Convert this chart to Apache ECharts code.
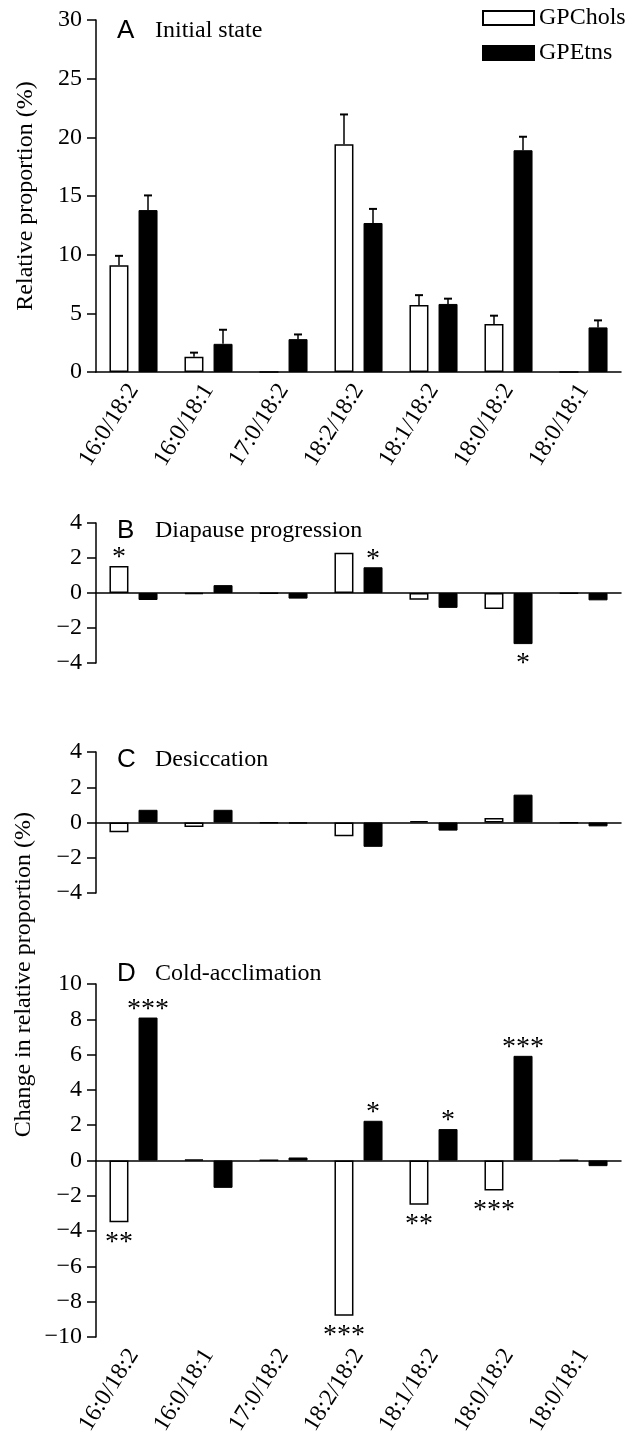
<!DOCTYPE html>
<html>
<head>
<meta charset="utf-8">
<script src="https://cdn.jsdelivr.net/npm/echarts@6/dist/echarts.min.js"></script>
<style>
  html, body { margin: 0; padding: 0; background: #fff; }
  #chart { width: 639px; height: 1437px; }
</style>
</head>
<body>
<div id="chart"></div>
<script>
// molecular species (x categories)
const categories = ['16:0/18:2', '16:0/18:1', '17:0/18:2', '18:2/18:2', '18:1/18:2', '18:0/18:2', '18:0/18:1'];

// A - initial state, relative proportion (%) and SE
const initChols = [9.1, 1.3, 0, 19.4, 5.7, 4.1, 0];
const initEtns = [13.8, 2.4, 2.8, 12.7, 5.8, 18.9, 3.8];
const initCholsErr = [0.8, 0.35, 0, 2.55, 0.85, 0.7, 0];
const initEtnsErr = [1.25, 1.2, 0.4, 1.2, 0.45, 1.15, 0.6];

// B - diapause progression, change (%)
const diapChols = [1.55, -0.05, -0.03, 2.3, -0.38, -0.92, -0.03];
const diapEtns = [-0.4, 0.45, -0.32, 1.47, -0.85, -2.92, -0.42];
const diapCholsSig = ['*', '', '', '', '', '', ''];
const diapEtnsSig = ['', '', '', '*', '', '*', ''];

// C - desiccation, change (%)
const desChols = [-0.55, -0.26, -0.04, -0.78, 0.08, 0.25, -0.03];
const desEtns = [0.72, 0.72, -0.05, -1.38, -0.46, 1.58, -0.22];
const desCholsSig = ['', '', '', '', '', '', ''];
const desEtnsSig = ['', '', '', '', '', '', ''];

// D - cold-acclimation, change (%)
const coldChols = [-3.5, 0.05, 0.02, -8.8, -2.5, -1.7, 0.02];
const coldEtns = [8.1, -1.55, 0.17, 2.25, 1.78, 5.93, -0.32];
const coldCholsSig = ['**', '', '', '***', '**', '***', ''];
const coldEtnsSig = ['***', '', '', '*', '*', '***', ''];

const serif = 'Liberation Serif';
const sans = 'Liberation Sans';

const panels = [
  { key: 'A', name: 'Initial state', top: 20, height: 352, min: 0, max: 30, step: 5, titleTop: 18, labels: true },
  { key: 'B', name: 'Diapause progression', top: 523, height: 140, min: -4, max: 4, step: 2, titleTop: 518, labels: false },
  { key: 'C', name: 'Desiccation', top: 752, height: 141, min: -4, max: 4, step: 2, titleTop: 747, labels: false },
  { key: 'D', name: 'Cold-acclimation', top: 984, height: 353, min: -10, max: 10, step: 2, titleTop: 961, labels: true }
];

function minus(v) {
  return v < 0 ? '\u2212' + (-v) : String(v);
}

function withSig(values, sig) {
  return values.map((v, i) => {
    const s = sig ? sig[i] : '';
    return {
      value: v,
      label: {
        show: !!s,
        formatter: s,
        position: v >= 0 ? 'top' : 'bottom',
        distance: v >= 0 ? -6 : 6
      }
    };
  });
}

const sigLabel = { fontFamily: serif, fontSize: 28, color: '#000' };

function barPair(idx, chols, etns, cholsSig, etnsSig) {
  return [
    {
      name: 'GPChols', type: 'bar', xAxisIndex: idx, yAxisIndex: idx,
      barWidth: 19, barGap: '53%',
      itemStyle: { color: '#fff', borderColor: '#000', borderWidth: 1.5 },
      label: sigLabel,
      data: withSig(chols, cholsSig)
    },
    {
      name: 'GPEtns', type: 'bar', xAxisIndex: idx, yAxisIndex: idx,
      barWidth: 19, barGap: '53%',
      itemStyle: { color: '#000', borderColor: '#000', borderWidth: 1 },
      label: sigLabel,
      data: withSig(etns, etnsSig)
    }
  ];
}

// error bars for panel A (upper half only, with cap)
const errData = [];
categories.forEach((c, i) => {
  errData.push([i, initChols[i], initCholsErr[i], -1]);
  errData.push([i, initEtns[i], initEtnsErr[i], 1]);
});

const errorSeries = {
  type: 'custom', name: 'SE', xAxisIndex: 0, yAxisIndex: 0, z: 5,
  encode: { x: 0, y: 1 },
  data: errData,
  renderItem: function (params, api) {
    const i = api.value(0), v = api.value(1), e = api.value(2), side = api.value(3);
    if (!e) return null;
    const base = api.coord([i, v]);
    const top = api.coord([i, v + e]);
    const cx = base[0] + side * 14.5;
    return {
      type: 'group',
      children: [
        { type: 'line', shape: { x1: cx, y1: base[1], x2: cx, y2: top[1] }, style: { stroke: '#000', lineWidth: 1.5 } },
        { type: 'line', shape: { x1: cx - 4, y1: top[1], x2: cx + 4, y2: top[1] }, style: { stroke: '#000', lineWidth: 2 } }
      ]
    };
  }
};

const option = {
  animation: false,
  backgroundColor: '#fff',
  title: panels.map(p => ({
    text: '{k|' + p.key + '}{t|' + p.name + '}',
    left: 117, top: p.titleTop, padding: 0,
    textStyle: {
      rich: {
        k: { fontFamily: sans, fontSize: 26, fontWeight: 'normal', color: '#000', width: 38 },
        t: { fontFamily: serif, fontSize: 24, fontWeight: 'normal', color: '#000' }
      }
    }
  })),
  legend: {
    data: ['GPChols', 'GPEtns'],
    orient: 'vertical', left: 482, top: 6,
    itemWidth: 51, itemHeight: 14, itemGap: 11,
    icon: 'rect', selectedMode: false, padding: 0,
    textStyle: { fontFamily: serif, fontSize: 24, color: '#000' }
  },
  grid: panels.map(p => ({ left: 96, width: 525, top: p.top, height: p.height, outerBoundsMode: 'none' })),
  xAxis: panels.map((p, i) => ({
    type: 'category', gridIndex: i, data: categories,
    axisLine: { show: true, onZero: true, lineStyle: { color: '#000', width: 1.5 } },
    axisTick: { show: false },
    splitLine: { show: false },
    axisLabel: {
      show: p.labels, rotate: 58, margin: 14, interval: 0,
      fontFamily: serif, fontSize: 24, color: '#000'
    }
  })),
  yAxis: panels.map((p, i) => ({
    type: 'value', gridIndex: i, min: p.min, max: p.max, interval: p.step,
    name: i === 0 ? 'Relative proportion (%)' : '',
    nameLocation: 'middle', nameGap: 58,
    nameTextStyle: { fontFamily: serif, fontSize: 24, color: '#000' },
    axisLine: { show: true, lineStyle: { color: '#000', width: 1.5 } },
    axisTick: { show: true, length: 9, lineStyle: { color: '#000', width: 1.5 } },
    splitLine: { show: false },
    axisLabel: { margin: 14, fontFamily: serif, fontSize: 24, color: '#000', formatter: minus }
  })),
  graphic: [{
    type: 'text', left: 12, top: 812, rotation: Math.PI / 2,
    style: { text: 'Change in relative proportion (%)', fontFamily: serif, fontSize: 24, fill: '#000' }
  }],
  series: [
    ...barPair(0, initChols, initEtns, null, null),
    errorSeries,
    ...barPair(1, diapChols, diapEtns, diapCholsSig, diapEtnsSig),
    ...barPair(2, desChols, desEtns, desCholsSig, desEtnsSig),
    ...barPair(3, coldChols, coldEtns, coldCholsSig, coldEtnsSig)
  ]
};

const myChart = echarts.init(document.getElementById('chart'));
myChart.setOption(option);
</script>
</body>
</html>
